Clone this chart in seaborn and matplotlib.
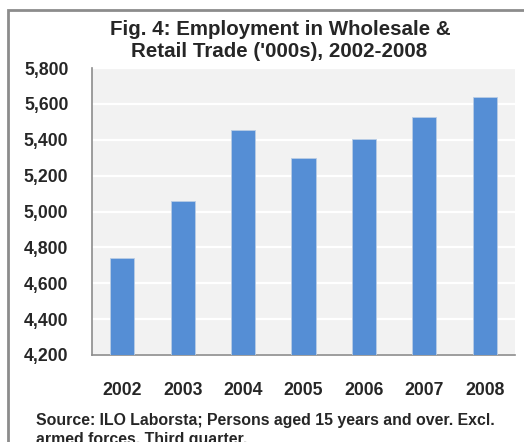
import matplotlib
matplotlib.use("Agg")
import matplotlib.pyplot as plt
import matplotlib.ticker as mticker
from matplotlib.patches import Rectangle
import seaborn as sns
import pandas as pd

years = ["2002", "2003", "2004", "2005", "2006", "2007", "2008"]
employment = [4740, 5060, 5454, 5300, 5406, 5529, 5638]
y_ticks = [4200, 4400, 4600, 4800, 5000, 5200, 5400, 5600, 5800]
title_lines = ["Fig. 4: Employment in Wholesale &", "Retail Trade ('000s), 2002-2008"]
source_lines = ["Source: ILO Laborsta; Persons aged 15 years and over. Excl.",
                "armed forces. Third quarter."]

sns.set_style("white")
plt.rcParams['font.family'] = ['Liberation Sans', 'DejaVu Sans']
plt.rcParams['font.weight'] = 'bold'

df = pd.DataFrame({"year": years, "value": employment})

W, H = 524, 442
fig = plt.figure(figsize=(W / 100, H / 100), dpi=100)
ax = fig.add_axes([92 / W, 1 - 355 / H, (515 - 92) / W, (355 - 68) / H])
ax.set_facecolor("#F2F2F2")

sns.barplot(data=df, x="year", y="value", ax=ax, color="#558ED5", width=0.4,
            edgecolor="#B9CDE5", linewidth=0.6, saturation=1, zorder=3)

ax.set_ylim(y_ticks[0], y_ticks[-1])
ax.set_xlim(-0.5, len(years) - 0.5)
ax.set_yticks(y_ticks)
ax.yaxis.set_major_formatter(mticker.FuncFormatter(lambda v, p: f"{int(v):,}"))
ax.grid(axis="y", color="white", linewidth=1.6, zorder=0)
ax.set_axisbelow(True)
ax.set_xlabel("")
ax.set_ylabel("")

for s in ["top", "right"]:
    ax.spines[s].set_visible(False)
for s in ["left", "bottom"]:
    ax.spines[s].set_color("#8C8C8C")
    ax.spines[s].set_linewidth(1.2)

ax.tick_params(axis="y", length=5, width=1.2, color="#8C8C8C", pad=12, labelsize=12.7)
ax.tick_params(axis="x", which="major", length=0, pad=19.5, labelsize=12.7)
ax.set_xticks([i - 0.5 for i in range(len(years) + 1)], minor=True)
ax.tick_params(axis="x", which="minor", length=5, width=1.2, color="#8C8C8C", direction="out")
for lab in ax.get_xticklabels() + ax.get_yticklabels():
    lab.set_fontweight("bold")

fig.text(280 / W, 1 - 35 / H, title_lines[0], ha="center", va="baseline",
         fontsize=14.8, fontweight="bold")
fig.text(279 / W, 1 - 56.7 / H, title_lines[1], ha="center", va="baseline",
         fontsize=14.8, fontweight="bold")
fig.text(36.5 / W, 1 - 425 / H, source_lines[0], ha="left", va="baseline",
         fontsize=11.4, fontweight="bold")
fig.text(36.5 / W, 1 - 444 / H, source_lines[1], ha="left", va="baseline",
         fontsize=11.4, fontweight="bold")

border = Rectangle((7.5 / W, -0.2), 1.2, 1 - 9.5 / H + 0.2, transform=fig.transFigure,
                   fill=False, edgecolor="#8C8C8C", linewidth=2, clip_on=False)
fig.patches.append(border)

fig.savefig("out.png", dpi=100, facecolor="white")
